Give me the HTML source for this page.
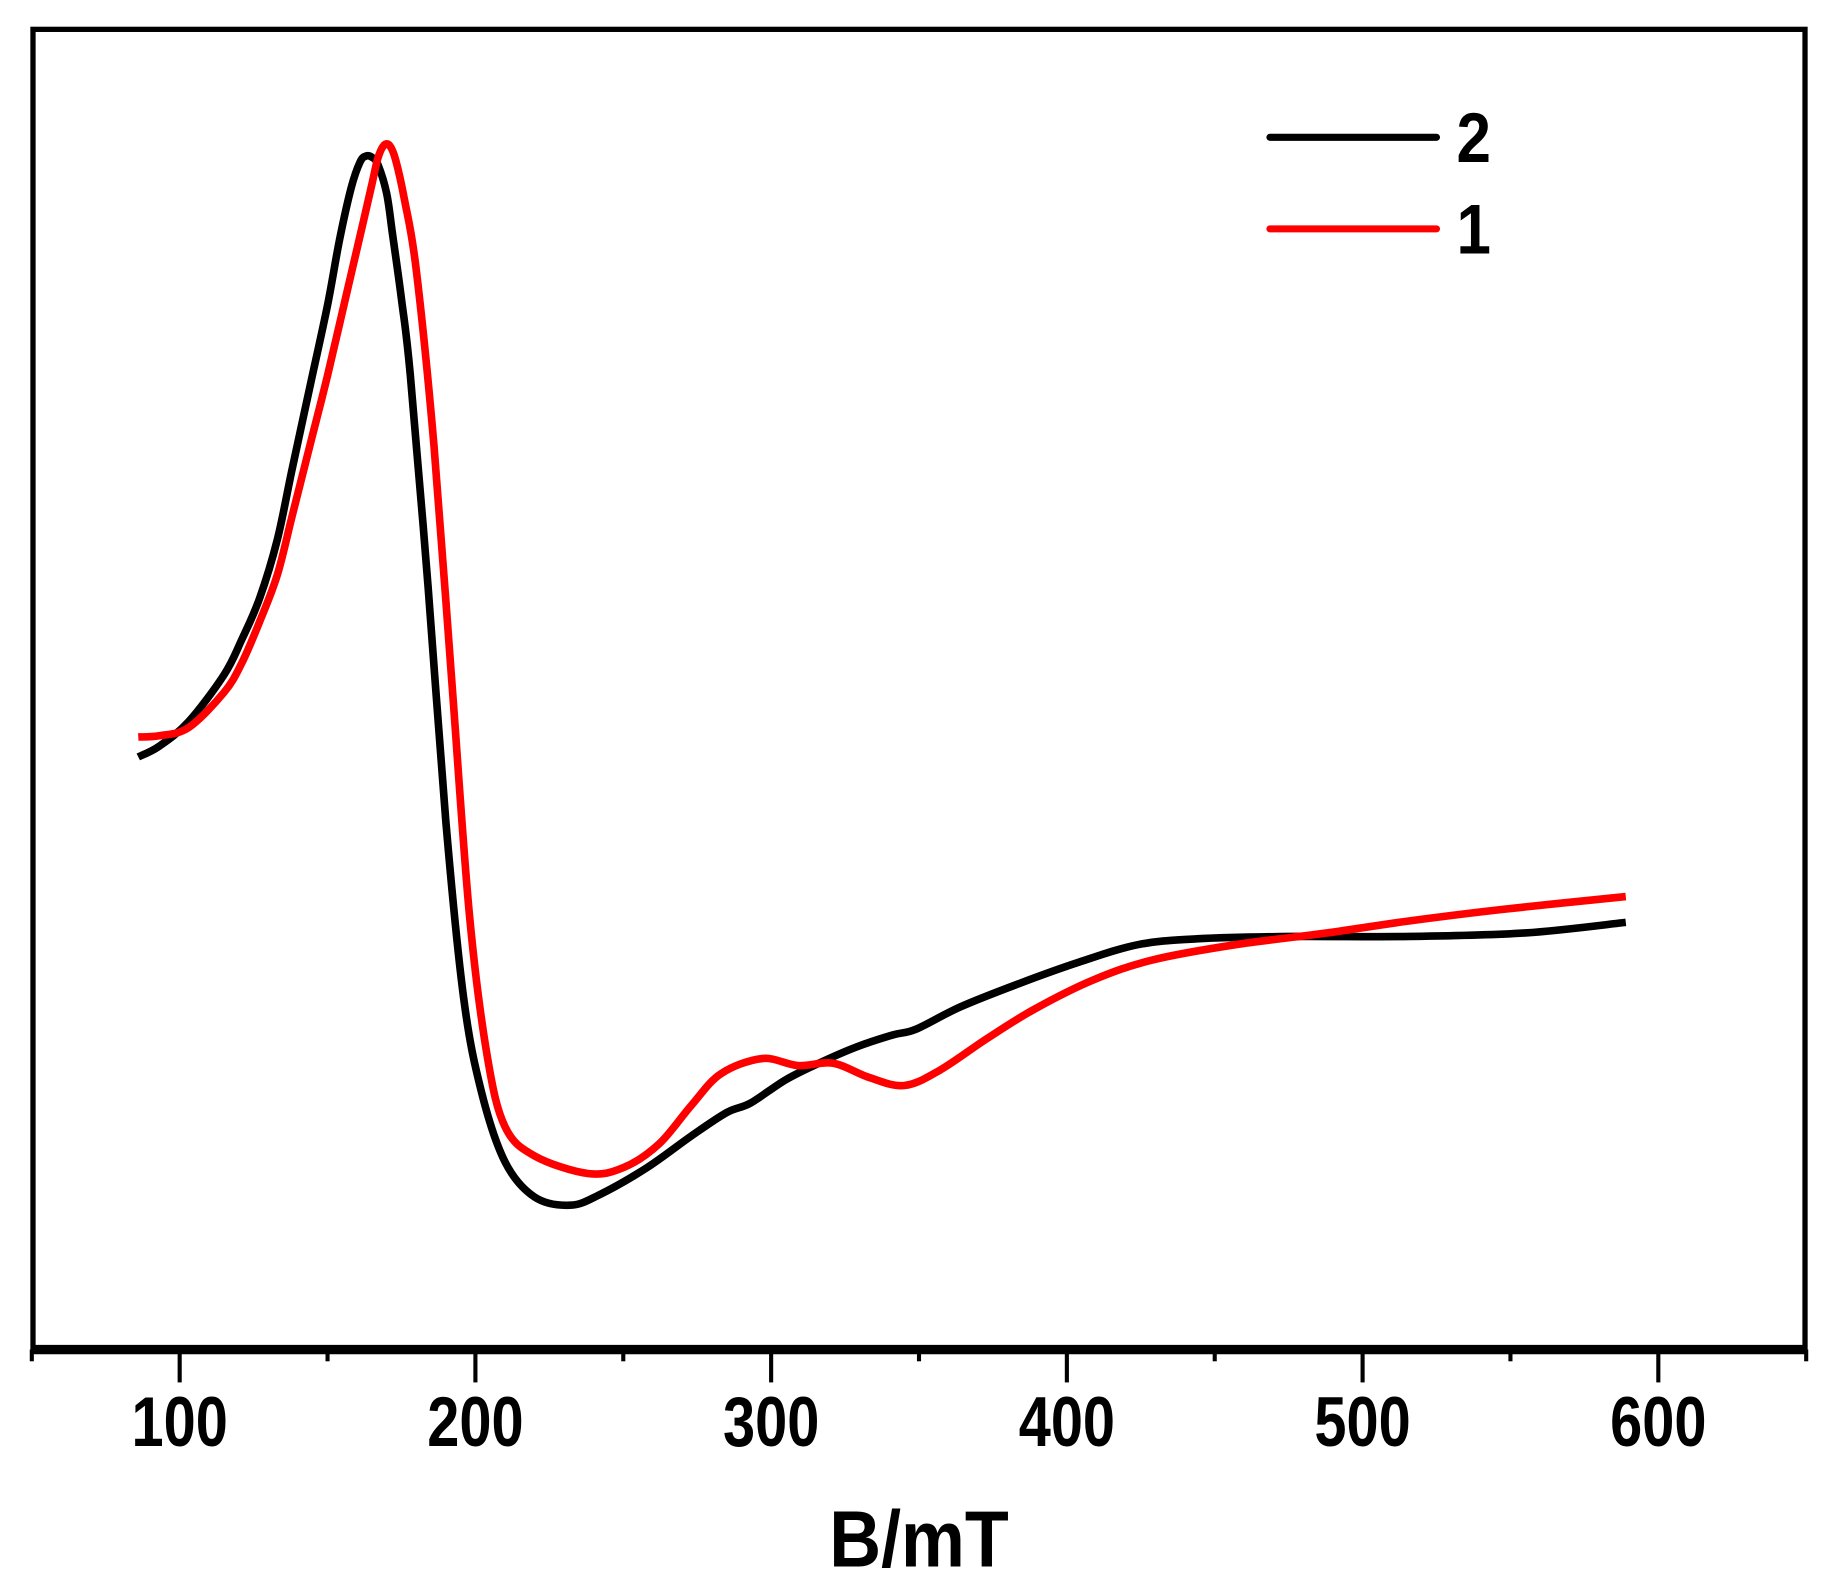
<!DOCTYPE html>
<html><head><meta charset="utf-8"><style>
html,body{margin:0;padding:0;background:#fff}
svg{display:block}
text{font-family:"Liberation Sans",Arial,sans-serif;font-weight:bold;fill:#000}
</style></head><body>
<svg id="chart" width="1838" height="1596" viewBox="0 0 1566 1360" xmlns="http://www.w3.org/2000/svg">
<rect x="28" y="25" width="1510" height="1125" fill="none" stroke="#000" stroke-width="4.5"/>
<line x1="26" y1="1150" x2="1540" y2="1150" stroke="#000" stroke-width="8"/>
<g id="ticks"></g>
<g id="series"></g>
<text x="0" y="0" font-size="68" text-anchor="middle" transform="translate(783,1335) scale(0.9,1)">B/mT</text>
<g>
<line x1="1082" y1="117" x2="1224" y2="117" stroke="#000" stroke-width="6" stroke-linecap="round"/>
<text x="0" y="0" font-size="60" transform="translate(1241,138) scale(0.88,1)">2</text>
<line x1="1082" y1="195" x2="1224" y2="195" stroke="#f00" stroke-width="6" stroke-linecap="round"/>
<text x="0" y="0" font-size="60" transform="translate(1241,216) scale(0.88,1)">1</text>
</g>
</svg>
<script>
const tickValues=[50,100,150,200,250,300,350,400,450,500,550,600,650];
const tickLabels=["100","200","300","400","500","600"];
const fieldB2=[86,93,103,115,121,127,133,138,144,150,154,158,161,163,165,167,170,172,175,178,184,190,196,202,210,220,232,242,258,273,285,293,305,317,329,341,349,364,384,404,424,444,476,516,555,589];
const signal2=[505,514,535,575,605,640,690,750,820,890,945,990,1012,1017,1016,1010,985,950,895,830,650,450,300,220,160,130,123,132,155,182,202,210,230,245,258,268,273,292,312,330,345,350,352,352,355,364];
const fieldB1=[86,93,103,115,121,127,133,138,144,150,156,162,165,167,169,171,173,176,180,186,192,198,204,210,220,238,250,262,273,283,297,309,321,333,345,357,373,389,409,429,457,488,515,547,589];
const signal1=[522,523,530,560,585,620,660,710,770,830,895,960,993,1015,1026,1026,1014,980,920,770,570,370,250,190,165,150,155,175,208,235,248,242,244,232,225,238,265,290,315,332,345,355,365,375,386];
const NS="http://www.w3.org/2000/svg";
function xs(v){return 153+(v-100)*2.52;}
function ys(v){return 1150-v;}
const tg=document.getElementById('ticks');
tickValues.forEach(v=>{
 const major=v%100===0;
 const l=document.createElementNS(NS,'line');
 
 
 l.setAttribute('x1',xs(v));l.setAttribute('x2',xs(v));
 l.setAttribute('y1',1150);l.setAttribute('y2',major?1178:1160);
 l.setAttribute('stroke','#000');l.setAttribute('stroke-width',3.5);
 tg.appendChild(l);
});
tickLabels.forEach(s=>{
 const t=document.createElementNS(NS,'text');
 
 
 t.setAttribute('x',0);t.setAttribute('y',0);
 t.setAttribute('transform','translate('+xs(+s)+',1232) scale(0.82,1)');
 t.setAttribute('font-size',60);t.setAttribute('text-anchor','middle');
 t.textContent=s;tg.appendChild(t);
});
function path(xa,ya){
 const p=xa.map((x,i)=>[xs(x),ys(ya[i])]);
 let d='M'+p[0][0]+','+p[0][1];
 for(let i=0;i<p.length-1;i++){
  const p0=p[i-1]||p[i],p1=p[i],p2=p[i+1],p3=p[i+2]||p2;
  const c1=[p1[0]+(p2[0]-p0[0])/6,p1[1]+(p2[1]-p0[1])/6];
  const c2=[p2[0]-(p3[0]-p1[0])/6,p2[1]-(p3[1]-p1[1])/6];
  d+=' C'+c1+' '+c2+' '+p2;
 }
 return d;
}
const sg=document.getElementById('series');
const a=document.createElementNS(NS,'path');


a.setAttribute('d',path(fieldB2,signal2));a.setAttribute('fill','none');a.setAttribute('stroke','#000');a.setAttribute('stroke-width',6.5);a.setAttribute('stroke-linejoin','round');
sg.appendChild(a);
const b=document.createElementNS(NS,'path');


b.setAttribute('d',path(fieldB1,signal1));b.setAttribute('fill','none');b.setAttribute('stroke','#f00');b.setAttribute('stroke-width',6.5);b.setAttribute('stroke-linejoin','round');
sg.appendChild(b);
</script>
</body></html>
